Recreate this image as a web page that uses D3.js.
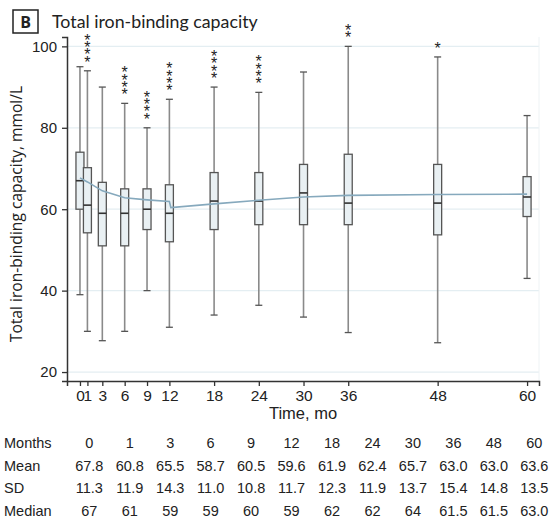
<!DOCTYPE html>
<html>
<head>
<meta charset="utf-8">
<script src="https://cdn.jsdelivr.net/npm/d3@7"></script>
<style>
  body { margin: 0; background: #fff; }
  svg { display: block; }
  text { font-family: "Liberation Sans", Arial, sans-serif; fill: #222; }
</style>
</head>
<body>
<svg id="chart" width="553" height="521"></svg>
<script>
// Follow-up visits (months)
const months = [0, 1, 3, 6, 9, 12, 18, 24, 30, 36, 48, 60];
// Box-plot summaries per visit, mmol/L
const whiskerHigh = [95, 94, 90, 86, 80, 87, 90, 88.7, 93.7, 100, 97.4, 83];
const upperQuartile = [74, 70.2, 66.6, 65, 65, 66, 69, 69, 71, 73.5, 71, 68];
const medians = [67, 61, 59, 59, 60, 59, 62, 62, 64, 61.5, 61.5, 63.0];
const lowerQuartile = [60, 54.2, 51, 51, 55, 52, 55, 56.2, 56.2, 56.2, 53.7, 58.2];
const whiskerLow = [39, 30, 27.7, 30, 40, 31, 34, 36.4, 33.5, 29.7, 27.2, 43];
// Significance stars above each box
const starCounts = [0, 4, 0, 4, 4, 4, 4, 4, 0, 2, 1, 0];
// Fitted trajectory (two phases, step at 12 months)
const fitMonthsEarly = [0, 1, 3, 6, 9, 12];
const fitValuesEarly = [67.7, 66.7, 64.5, 62.8, 62.3, 61.9];
const fitMonthsLate = [12, 18, 24, 30, 36, 48, 60];
const fitValuesLate = [60.4, 61.3, 62.2, 63.0, 63.4, 63.6, 63.7];
// Summary table
const tableMeans = ["67.8", "60.8", "65.5", "58.7", "60.5", "59.6", "61.9", "62.4", "65.7", "63.0", "63.0", "63.6"];
const tableSD = ["11.3", "11.9", "14.3", "11.0", "10.8", "11.7", "12.3", "11.9", "13.7", "15.4", "14.8", "13.5"];
const tableMedians = ["67", "61", "59", "59", "60", "59", "62", "62", "64", "61.5", "61.5", "63.0"];
const yTicks = [20, 40, 60, 80, 100];

const svg = d3.select("#chart");
const plot = { left: 67, right: 539, top: 37, bottom: 381 };

const x = d3.scaleLinear().domain([-1.74, 61.6]).range([plot.left, plot.right]);
const y = d3.scaleLinear().domain([17.8, 102.3]).range([plot.bottom, plot.top]);

// Panel tag and title
svg.append("rect").attr("x", 13).attr("y", 10).attr("width", 25).attr("height", 23)
  .attr("fill", "none").attr("stroke", "#222").attr("stroke-width", 1.5);
svg.append("text").attr("x", 25.5).attr("y", 27.5).attr("text-anchor", "middle")
  .style("font-family", "'Open Sans', 'Noto Sans', sans-serif")
  .attr("font-size", 16).attr("font-weight", "bold").text("B");
svg.append("text").attr("x", 52).attr("y", 28)
  .style("font-family", "Lato, 'Open Sans', sans-serif")
  .attr("font-size", 17.8).text("Total iron-binding capacity");

// Horizontal grid
svg.append("g").selectAll("line").data(yTicks).join("line")
  .attr("x1", plot.left).attr("x2", plot.right)
  .attr("y1", d => y(d)).attr("y2", d => y(d))
  .attr("stroke", "#e4eef2").attr("stroke-width", 1.2);
// Right frame edge
svg.append("line").attr("x1", plot.right).attr("x2", plot.right)
  .attr("y1", plot.top).attr("y2", plot.bottom)
  .attr("stroke", "#eef3f5").attr("stroke-width", 1);

// Axes
const yAxis = svg.append("g").attr("transform", `translate(${plot.left},0)`)
  .call(d3.axisLeft(y).tickValues(yTicks).tickSize(5).tickPadding(5));
const xAxis = svg.append("g").attr("transform", `translate(0,${plot.bottom})`)
  .call(d3.axisBottom(x).tickValues(months).tickSize(5).tickPadding(4));
[yAxis, xAxis].forEach(g => {
  g.select(".domain").attr("stroke", "#333").attr("stroke-width", 1.5);
  g.selectAll(".tick line").attr("stroke", "#333").attr("stroke-width", 1.3);
  g.selectAll(".tick text").attr("fill", "#222")
    .style("font-family", "'Liberation Sans', Arial, sans-serif");
});
yAxis.selectAll(".tick text").attr("font-size", 15);
xAxis.selectAll(".tick text").attr("font-size", 15.5);

// Axis titles
svg.append("text").attr("transform", `translate(22,${(plot.top + plot.bottom) / 2 + 5}) rotate(-90)`)
  .attr("text-anchor", "middle").attr("font-size", 15.6)
  .style("font-family", "'Open Sans', 'Noto Sans', sans-serif")
  .text("Total iron-binding capacity, mmol/L");
svg.append("text").attr("x", (plot.left + plot.right) / 2).attr("y", 419)
  .attr("text-anchor", "middle").attr("font-size", 16.5).text("Time, mo");

// Box plots
const boxes = months.map((m, i) => ({
  m, hi: whiskerHigh[i], q3: upperQuartile[i], med: medians[i],
  q1: lowerQuartile[i], lo: whiskerLow[i], stars: starCounts[i]
}));
const bw = 8, cap = 3.5;
const gBox = svg.append("g");
const b = gBox.selectAll("g").data(boxes).join("g");
b.append("line").attr("x1", d => x(d.m)).attr("x2", d => x(d.m))
  .attr("y1", d => y(d.hi)).attr("y2", d => y(d.q3))
  .attr("stroke", "#8a8a8a").attr("stroke-width", 1.6);
b.append("line").attr("x1", d => x(d.m)).attr("x2", d => x(d.m))
  .attr("y1", d => y(d.q1)).attr("y2", d => y(d.lo))
  .attr("stroke", "#8a8a8a").attr("stroke-width", 1.6);
b.append("line").attr("x1", d => x(d.m) - cap).attr("x2", d => x(d.m) + cap)
  .attr("y1", d => y(d.hi)).attr("y2", d => y(d.hi))
  .attr("stroke", "#555").attr("stroke-width", 1.3);
b.append("line").attr("x1", d => x(d.m) - cap).attr("x2", d => x(d.m) + cap)
  .attr("y1", d => y(d.lo)).attr("y2", d => y(d.lo))
  .attr("stroke", "#555").attr("stroke-width", 1.3);
b.append("rect").attr("x", d => x(d.m) - bw / 2).attr("width", bw)
  .attr("y", d => y(d.q3)).attr("height", d => y(d.q1) - y(d.q3))
  .attr("fill", "#e9f0f3").attr("stroke", "#555").attr("stroke-width", 1.3);
b.append("line").attr("x1", d => x(d.m) - bw / 2).attr("x2", d => x(d.m) + bw / 2)
  .attr("y1", d => y(d.med)).attr("y2", d => y(d.med))
  .attr("stroke", "#333").attr("stroke-width", 1.6);

// Significance stars: a vertical run of asterisks above each whisker cap,
// the run turned upward while each glyph is turned back upright
b.filter(d => d.stars > 0).append("text")
  .attr("transform", d => `translate(${x(d.m)},${y(d.hi) - 3}) rotate(-90)`)
  .attr("rotate", 90).attr("dy", "-0.2em")
  .attr("font-size", 16).attr("letter-spacing", 1.1).attr("fill", "#333")
  .text(d => "*".repeat(d.stars));

// Fitted trajectory
const line = d3.line().x(p => x(p[0])).y(p => y(p[1]));
const fitPts = fitMonthsEarly.map((m, i) => [m, fitValuesEarly[i]])
  .concat(fitMonthsLate.map((m, i) => [m + (i === 0 ? 0.2 : 0), fitValuesLate[i]]));
svg.append("path").datum(fitPts).attr("d", line)
  .attr("fill", "none").attr("stroke", "#86a9bd").attr("stroke-width", 1.6);

// Summary table
const col = d3.scalePoint().domain(months).range([89.3, 534.3]);
const rows = [
  { label: "Months", vals: months.map(String), cy: 443.3 },
  { label: "Mean", vals: tableMeans, cy: 465.8 },
  { label: "SD", vals: tableSD, cy: 488.4 },
  { label: "Median", vals: tableMedians, cy: 511 }
];
const tg = svg.append("g").attr("font-size", 14.5);
rows.forEach(r => {
  tg.append("text").attr("x", 4).attr("y", r.cy).attr("dy", "0.35em").text(r.label);
  tg.selectAll(null).data(r.vals).join("text")
    .attr("x", (v, i) => col(months[i])).attr("y", r.cy).attr("dy", "0.35em")
    .attr("text-anchor", "middle").text(v => v);
});
</script>
</body>
</html>
